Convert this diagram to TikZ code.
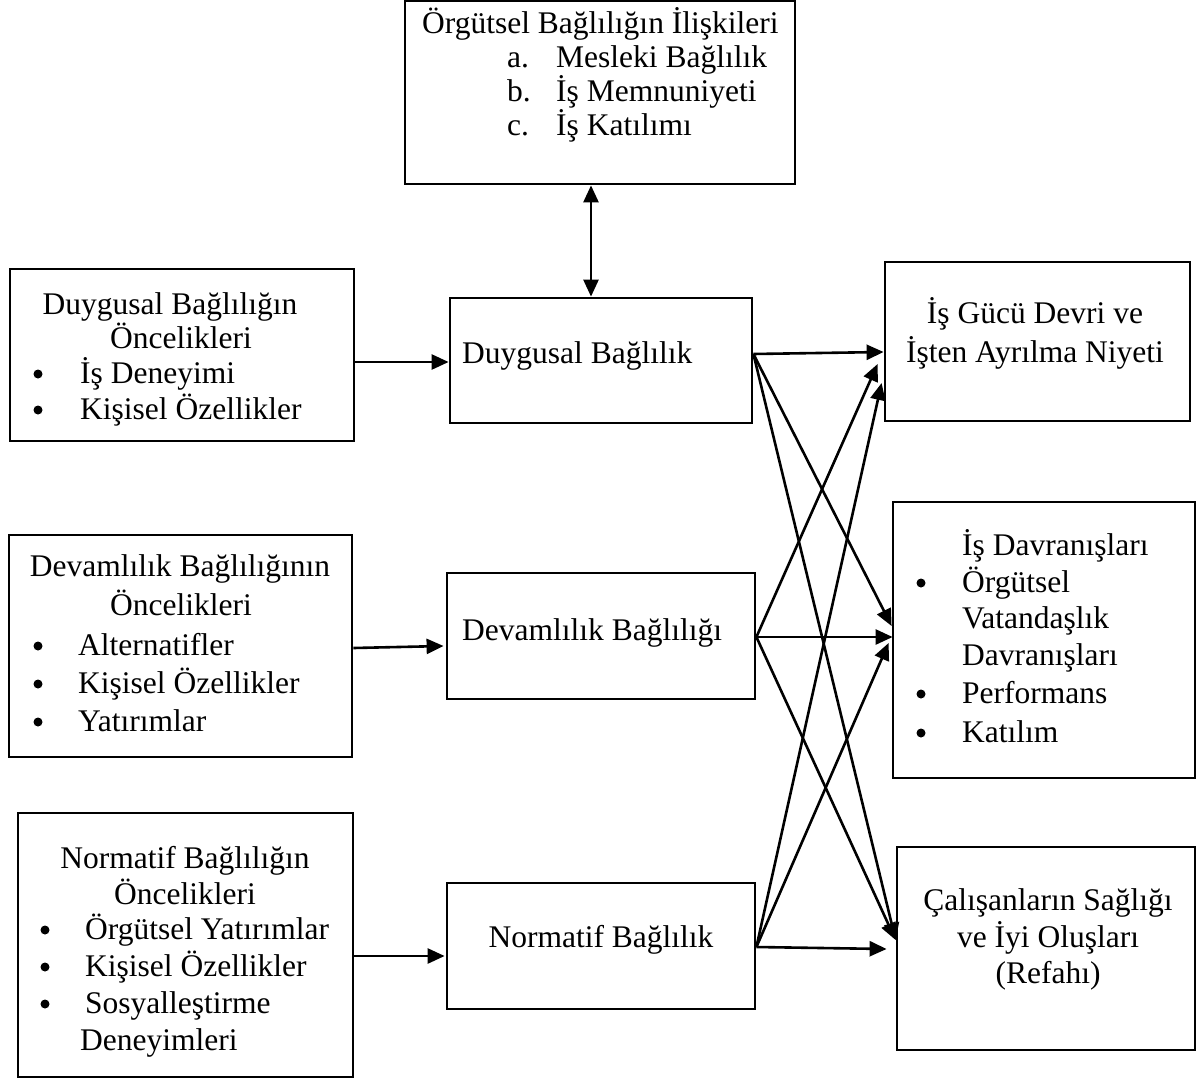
\documentclass[tikz,border=0pt]{standalone}
\usepackage{fontspec}
\setmainfont{Liberation Serif}
\usetikzlibrary{arrows.meta}
\begin{document}
\begin{tikzpicture}[x=1pt,y=-1pt,
  box/.style={draw, line width=2.8pt, rectangle, inner sep=0pt},
  tip/.tip={Triangle[length=17pt,width=15pt]},
  conn/.style={line width=2.6pt, -tip},
  both/.style={line width=2.6pt, tip-tip},
  lt/.style={anchor=base west, inner sep=0pt, font=\fontsize{31.5}{36}\selectfont},
  ct/.style={anchor=base, inner sep=0pt, font=\fontsize{31.5}{36}\selectfont},
  dot/.style={circle, fill, inner sep=0pt, minimum size=9pt},
]
\useasboundingbox (0,0) rectangle (1198,1081);

% ---- boxes ----
\node[box, minimum width=390pt, minimum height=183pt] (top) at (600,92.5) {};
\node[box, minimum width=344pt, minimum height=172pt] (a1) at (182,355) {};
\node[box, minimum width=343pt, minimum height=222pt] (a2) at (180.5,646) {};
\node[box, minimum width=335pt, minimum height=264pt] (a3) at (185.5,945) {};
\node[box, minimum width=302pt, minimum height=125pt] (b1) at (601,360.5) {};
\node[box, minimum width=308pt, minimum height=126pt] (b2) at (601,636) {};
\node[box, minimum width=308pt, minimum height=126pt] (b3) at (601,946) {};
\node[box, minimum width=305pt, minimum height=159pt] (c1) at (1037.5,341.5) {};
\node[box, minimum width=302pt, minimum height=276pt] (c2) at (1044,640) {};
\node[box, minimum width=298pt, minimum height=203pt] (c3) at (1046,948.5) {};

% ---- texts: top box ----
\node[lt] (t1) at (422,34) {Örgütsel Bağlılığın İlişkileri};
\node[lt] (t2a) at (507,67) {a.};
\node[lt] (t2) at (556,67) {Mesleki Bağlılık};
\node[lt] (t3a) at (507,101) {b.};
\node[lt] (t3) at (556,101) {İş Memnuniyeti};
\node[lt] (t4a) at (507,135) {c.};
\node[lt] (t4) at (556,135) {İş Katılımı};

% ---- texts: left column ----
\node[ct] (a1l1) at (170,314) {Duygusal Bağlılığın};
\node[ct] (a1l2) at (181,348) {Öncelikleri};
\node[dot] (a1b1) at (38,374) {};
\node[lt] (a1l3) at (80,383) {İş Deneyimi};
\node[dot] (a1b2) at (38,410) {};
\node[lt] (a1l4) at (80,419) {Kişisel Özellikler};

\node[ct] (a2l1) at (180,576) {Devamlılık Bağlılığının};
\node[ct] (a2l2) at (181,615) {Öncelikleri};
\node[dot] (a2b1) at (38,646) {};
\node[lt] (a2l3) at (78,655) {Alternatifler};
\node[dot] (a2b2) at (38,684) {};
\node[lt] (a2l4) at (78,693) {Kişisel Özellikler};
\node[dot] (a2b3) at (38,722) {};
\node[lt] (a2l5) at (78,731) {Yatırımlar};

\node[ct] (a3l1) at (185,868) {Normatif Bağlılığın};
\node[ct] (a3l2) at (185,904) {Öncelikleri};
\node[dot] (a3b1) at (45,930) {};
\node[lt] (a3l3) at (85,939) {Örgütsel Yatırımlar};
\node[dot] (a3b2) at (45,967) {};
\node[lt] (a3l4) at (85,976) {Kişisel Özellikler};
\node[dot] (a3b3) at (45,1004) {};
\node[lt] (a3l5) at (85,1013) {Sosyalleştirme};
\node[lt] (a3l6) at (80,1050) {Deneyimleri};

% ---- texts: middle column ----
\node[lt] (b1t) at (462,363) {Duygusal Bağlılık};
\node[lt] (b2t) at (462,640) {Devamlılık Bağlılığı};
\node[ct] (b3t) at (601,947) {Normatif Bağlılık};

% ---- texts: right column ----
\node[ct] (c1l1) at (1035,323) {İş Gücü Devri ve};
\node[ct] (c1l2) at (1035,362) {İşten Ayrılma Niyeti};

\node[lt] (c2l1) at (962,555) {İş Davranışları};
\node[dot] (c2b1) at (921,583) {};
\node[lt] (c2l2) at (962,592) {Örgütsel};
\node[lt] (c2l3) at (962,628) {Vatandaşlık};
\node[lt] (c2l4) at (962,665) {Davranışları};
\node[dot] (c2b2) at (921,694) {};
\node[lt] (c2l5) at (962,703) {Performans};
\node[dot] (c2b3) at (921,733) {};
\node[lt] (c2l6) at (962,742) {Katılım};

\node[ct] (c3l1) at (1048,910) {Çalışanların Sağlığı};
\node[ct] (c3l2) at (1048,947) {ve İyi Oluşları};
\node[ct] (c3l3) at (1048,983) {(Refahı)};

% ---- connectors ----
\draw[both] ([xshift=-9pt]top.south) -- ([xshift=-10pt]b1.north);

\draw[conn] ([yshift=-7pt]a1.east) -- ([yshift=-1.5pt]b1.west);
\draw[conn] ([yshift=-2pt]a2.east) -- ([xshift=-2pt,yshift=-10pt]b2.west);
\draw[conn] ([yshift=-11pt]a3.east) -- ([xshift=-1pt,yshift=-10pt]b3.west);

\coordinate (b1o) at ([yshift=6.5pt]b1.east);
\coordinate (b2o) at ([yshift=-1pt]b2.east);
\coordinate (b3o) at ([yshift=-1pt]b3.east);

\draw[conn] (b1o) -- ([yshift=-10.5pt]c1.west);
\draw[conn] (b1o) -- ([yshift=14pt]c2.west);
\draw[conn] (b1o) -- ([yshift=8.5pt]c3.west);

\draw[conn] (b2o) -- ([xshift=-6pt,yshift=-22.5pt]c1.west);
\draw[conn] (b2o) -- ([xshift=1pt,yshift=3pt]c2.west);
\draw[conn] (b2o) -- ([yshift=8.5pt]c3.west);

\draw[conn] (b3o) -- ([xshift=-2pt,yshift=-41.5pt]c1.west);
\draw[conn] (b3o) -- ([xshift=-3pt,yshift=-3pt]c2.west);
\draw[conn] (b3o) -- ([xshift=-9pt,yshift=-0.5pt]c3.west);
\end{tikzpicture}
\end{document}
